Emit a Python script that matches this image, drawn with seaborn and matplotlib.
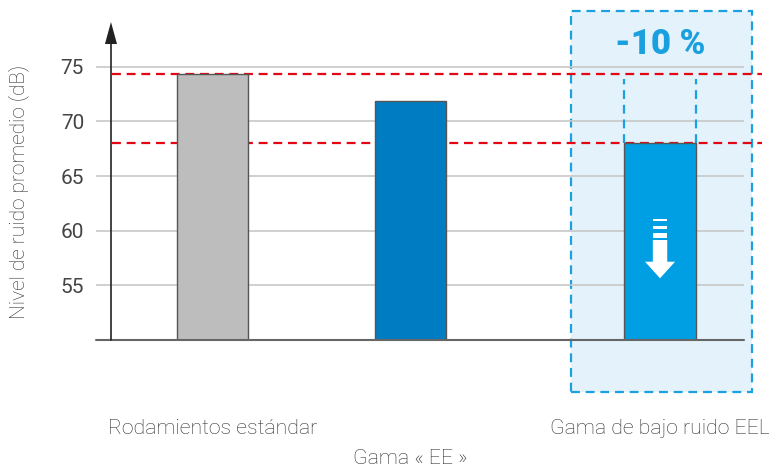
import matplotlib
matplotlib.use("Agg")
import matplotlib.pyplot as plt
import matplotlib.transforms as mtransforms
from matplotlib.patches import Rectangle, Polygon
import seaborn as sns

# Data
categories = ["Rodamientos estándar", "Gama « EE »", "Gama de bajo ruido EEL"]
noise_db = [74.3, 71.9, 68.0]
bar_colors = ["#BDBDBD", "#007CC3", "#009FE3"]
y_ticks = [55, 60, 65, 70, 75]
reduction_label = "-10 %"
y_label = "Nivel de ruido promedio (dB)"

# Uneven horizontal placement of the three groups
positions = [0.0, 1.0, 2.26]

sns.set_style("white")
plt.rcParams["font.family"] = ["Roboto", "Liberation Sans", "DejaVu Sans"]
plt.rcParams["font.weight"] = "light"

TEXT = "#2e2e2e"
RED = "#E30613"
LIGHT_BLUE = "#1BA1E2"

fig = plt.figure(figsize=(7.69, 4.71), dpi=100)
ax = fig.add_axes([0.12484, 0.27813, 0.84265, 0.67516])

sns.barplot(x=positions, y=noise_db, hue=categories, palette=dict(zip(categories, bar_colors)),
            native_scale=True, width=0.36, dodge=False, legend=False,
            edgecolor="#555555", linewidth=1.0, saturation=1, ax=ax, zorder=2)

ax.set_xlim(-0.588, 2.684)
ax.set_ylim(50, 79.09)
for s in ax.spines.values():
    s.set_visible(False)

# Horizontal grid
ax.set_yticks(y_ticks)
ax.set_yticklabels([str(t) for t in y_ticks], fontweight="normal")
ax.yaxis.grid(True, color="#C8C8C8", linewidth=1.2, zorder=0.5)
ax.set_axisbelow(True)
ax.tick_params(axis="y", length=0, pad=8.6, labelsize=15, labelcolor="#444444")

# Baseline
ax.axhline(50, color="#666666", linewidth=1.5, clip_on=False, zorder=3)

# Category labels, middle one staggered lower
ax.set_xticks(positions)
ax.set_xticklabels(categories)
ax.tick_params(axis="x", length=0, pad=57, labelsize=15.3, labelcolor=TEXT)
mid = ax.get_xticklabels()[1]
mid.set_transform(mid.get_transform() + mtransforms.ScaledTranslation(0, -0.30, fig.dpi_scale_trans))
ax.set_xlabel("")

ax.set_ylabel(y_label, fontsize=15, color=TEXT, fontweight="light")
ax.yaxis.set_label_coords(-0.1034, 0.465)

# Vertical axis with arrow head
ax_x = 0.0231
ax.plot([ax_x, ax_x], [0, 0.94], transform=ax.transAxes, color="#222222",
        linewidth=1.2, clip_on=False, zorder=4)
ax.add_patch(Polygon([[ax_x - 0.0093, 0.9308], [ax_x + 0.0093, 0.9308], [ax_x, 1.0]],
                     closed=True, transform=ax.transAxes, facecolor="#222222",
                     edgecolor="none", clip_on=False, zorder=4))

# Highlight box around the low-noise range
p3 = positions[2]
ax.add_patch(Rectangle((p3 - 0.45, 45.24), 0.914, 34.86, facecolor="#E4F3FB",
                       edgecolor=LIGHT_BLUE, linewidth=1.6, linestyle=(0, (4, 2.6)),
                       clip_on=False, zorder=0.2))

# Reference levels
for v in (noise_db[0], noise_db[2]):
    ax.axhline(v, xmin=0.0246, xmax=1.028, color=RED, linewidth=1.6,
               linestyle=(0, (4, 2.6)), clip_on=False, zorder=1.5)

# Dashed guides above the low-noise bar
half_w = 0.18
ax.vlines([p3 - half_w, p3 + half_w], noise_db[2], noise_db[0] - 0.4, colors=LIGHT_BLUE,
          linewidth=1.6, linestyles=[(0, (4, 2.6))], zorder=1.6)

ax.text(p3, 77.0, reduction_label, ha="center", va="center", fontsize=25,
        fontweight="heavy", color="#1A9FDF",
        family=["Roboto", "Liberation Sans", "DejaVu Sans"], zorder=5)

# White downward arrow inside the low-noise bar (drawn in pixel offsets)
anchor_y = (50 + noise_db[2]) / 2
tr = fig.dpi_scale_trans + mtransforms.ScaledTranslation(p3, anchor_y, ax.transData)

def px(x, y):
    return (x / 100.0, -y / 100.0)

for y0, y1 in [(-22.6, -20.6), (-15.9, -12.6), (-8.3, -3.3)]:
    ax.add_patch(Polygon([px(-7.2, y0), px(7.2, y0), px(7.2, y1), px(-7.2, y1)],
                         closed=True, transform=tr, facecolor="white",
                         edgecolor="none", zorder=5))
ax.add_patch(Polygon([px(-7.2, -1.6), px(7.2, -1.6), px(7.2, 20.1), px(15, 20.1),
                      px(0, 36.7), px(-15, 20.1), px(-7.2, 20.1)],
                     closed=True, transform=tr, facecolor="white", edgecolor="none",
                     zorder=5))

fig.savefig("out.png", dpi=100)
